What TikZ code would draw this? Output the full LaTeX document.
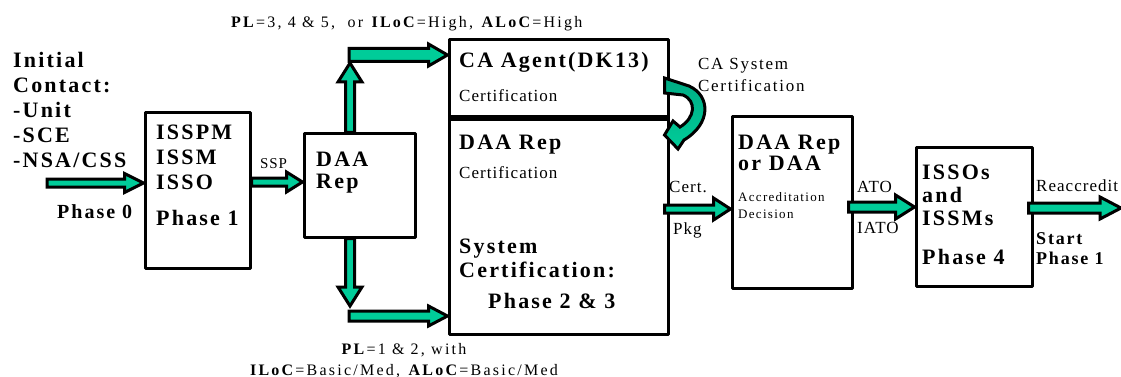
\documentclass[tikz,border=0pt]{standalone}
\usepackage{fontspec}
\setmainfont{Liberation Serif}
\newfontfamily\spaced{Liberation Serif}[LetterSpace=10]
\newfontfamily\spacedsm{Liberation Serif}[LetterSpace=6]
\newfontfamily\spacedwide{Liberation Serif}[LetterSpace=14]
\usetikzlibrary{calc}
\definecolor{flowgreen}{RGB}{0,204,153}
\definecolor{flowdark}{RGB}{0,172,132}

% block arrow: #1 tail, #2 tip, #3 half shaft width, #4 half head width, #5 head length
\newcommand\fatarrow[5]{%
  \coordinate (faS) at (#1);
  \coordinate (faE) at (#2);
  \coordinate (faB) at ($(faE)!#5!(faS)$);
  \draw[fatline,fill=flowgreen]
    ($(faS)!#3!90:(faE)$) -- ($(faB)!#3!90:(faE)$) -- ($(faB)!#4!90:(faE)$) --
    (faE) -- ($(faB)!#4!-90:(faE)$) -- ($(faB)!#3!-90:(faE)$) --
    ($(faS)!#3!-90:(faE)$) -- cycle;}

\begin{document}
\begin{tikzpicture}[x=1pt,y=-1pt,
  box/.style={draw,line width=3pt,rectangle,inner sep=0pt,line join=round},
  fatline/.style={draw=black,line width=3pt,line join=miter},
  head/.style={font=\spaced\bfseries\fontsize{22}{25}\selectfont,anchor=north west,inner sep=0pt,align=left},
  sub/.style={font=\spaced\bfseries\fontsize{18}{20}\selectfont,anchor=north west,inner sep=0pt,align=left},
  plain/.style={font=\spacedsm\fontsize{17}{20}\selectfont,anchor=north west,inner sep=0pt,align=left},
  small/.style={font=\spaced\fontsize{13}{17}\selectfont,anchor=north west,inner sep=0pt,align=left},
  cond/.style={font=\spacedwide\fontsize{16}{21}\selectfont,anchor=north,inner sep=0pt,align=center}]
\useasboundingbox (0,0) rectangle (1121,377);
\fill[white] (0,0) rectangle (1121,377);

% process boxes
\node[box,minimum width=105pt,minimum height=155pt] (b1) at (197.5,190.5) {};
\node[box,minimum width=111pt,minimum height=103pt] (b2) at (359.5,185.5) {};
\node[box,minimum width=219pt,minimum height=80pt] (ca) at (558.5,80) {};
\node[box,minimum width=219pt,minimum height=217pt] (cert) at (558.5,225.5) {};
\node[box,minimum width=120pt,minimum height=171pt] (acc) at (792,202.5) {};
\node[box,minimum width=116pt,minimum height=139pt] (iss) at (974,216.5) {};

% box texts
\node[head] (tinit) at (13,52) {Initial\\Contact:\\-Unit\\-SCE\\-NSA/CSS};
\node[head] (t1) at (156,124.5) {ISSPM\\ISSM\\ISSO};
\node[head] (t1p) at (156,210.5) {Phase 1};
\node[font=\spaced\bfseries\fontsize{20}{24}\selectfont,anchor=north west,inner sep=0pt] (tp0) at (57,204) {Phase 0};
\node[head,font=\spaced\bfseries\fontsize{22}{22}\selectfont] (t2) at (316,151.5) {DAA\\Rep};
\node[head] (tca) at (459,52.5) {CA Agent(DK13)};
\node[plain] (tcac) at (459,89) {Certification};
\node[head] (tdr) at (459,134.5) {DAA Rep};
\node[plain] (tdrc) at (459,166) {Certification};
\node[head,font=\spaced\bfseries\fontsize{22}{24}\selectfont] (tsys) at (459,238.5) {System\\Certification:};
\node[head] (tph23) at (488,293.5) {Phase 2 \& 3};
\node[head,font=\spaced\bfseries\fontsize{22}{21}\selectfont] (tacc) at (738,134.5) {DAA Rep\\or DAA};
\node[small] (tdec) at (738,192) {Accreditation\\Decision};
\node[head,font=\spaced\bfseries\fontsize{22}{23}\selectfont] (tiss) at (922,164.5) {ISSOs\\and\\ISSMs};
\node[head] (tph4) at (922,249.5) {Phase 4};
\node[sub] (tstart) at (1036,232) {Start\\Phase 1};

% arrows between boxes
\coordinate (p0) at (47,183);
\fatarrow{p0}{b1.west |- 0,183}{4pt}{9.5pt}{19pt}
\fatarrow{b1.east |- 0,182}{b2.west |- 0,182}{4pt}{10pt}{16pt}
\coordinate (upTip) at (350,63);
\coordinate (upTail) at (349,55);
\coordinate (dnTip) at (350,306);
\coordinate (dnTail) at (349,316);
\fatarrow{b2.north -| 350,0}{upTip}{4.5pt}{12pt}{19pt}
\fatarrow{upTail}{ca.west |- 0,55}{6.5pt}{11pt}{19pt}
\fatarrow{b2.south -| 350,0}{dnTip}{4.5pt}{12pt}{19pt}
\fatarrow{dnTail}{cert.west |- 0,316}{5pt}{10pt}{19pt}
\fatarrow{$(cert.east |- 0,209)+(-5,0)$}{acc.west |- 0,209}{4pt}{11pt}{17pt}
\fatarrow{$(acc.east |- 0,207)+(-5,0)$}{iss.west |- 0,207}{5pt}{12pt}{19pt}
\coordinate (reEnd) at (1121,208);
\fatarrow{$(iss.east |- 0,208)+(-5,0)$}{reEnd}{5pt}{11pt}{21pt}

% loop arrow from the CA agent back to the DAA Rep
\draw[fatline,top color=flowdark,bottom color=flowgreen]
  ($(ca.east |- 0,78)+(-5,0)$) -- (689,86) .. controls (711,96) and (711,124) .. (684,140)
  -- (678,149) -- ($(cert.east |- 0,135)+(-5,0)$) -- (673,121) -- (680,127)
  .. controls (695,118) and (697,101) .. (683,95) -- ($(ca.east |- 0,93)+(-5,0)$) -- cycle;

% connector labels
\node[plain,font=\spacedsm\fontsize{15}{20}\selectfont] (lssp) at (260,158) {SSP};
\node[plain] (lcert) at (669,181) {Cert.};
\node[plain] (lpkg) at (673,223) {Pkg};
\node[plain] (lato) at (857,181) {ATO};
\node[plain] (liato) at (857,222) {IATO};
\node[plain] (lre) at (1036,180) {Reaccredit};
\node[plain,font=\spaced\fontsize{17}{22}\selectfont] (lcas) at (698,58) {CA System\\Certification};
\node[cond,anchor=north west] (lhigh) at (231,16) {\textbf{PL}=3, 4 \& 5,\ \ or \textbf{ILoC}=High, \textbf{ALoC}=High};
\node[cond] (llow) at (404,343) {\textbf{PL}=1 \& 2, with\\\textbf{ILoC}=Basic/Med, \textbf{ALoC}=Basic/Med};
\end{tikzpicture}
\end{document}
